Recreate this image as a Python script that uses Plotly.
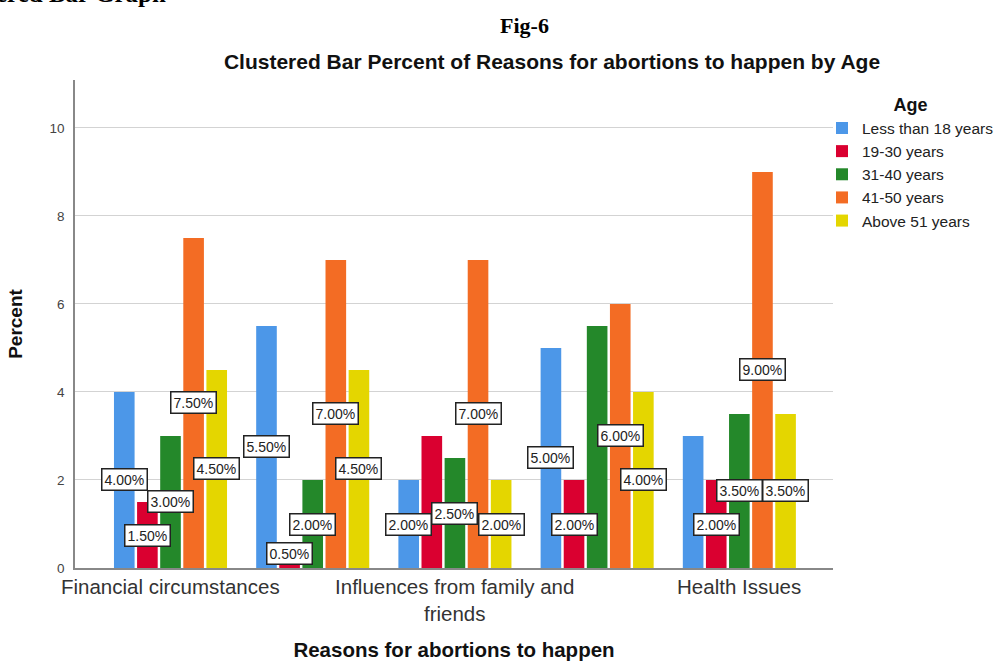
import plotly.graph_objects as go

# ---- data ----
categories = ["Financial circumstances", "Category 2", "Influences from family and friends", "Category 4", "Health Issues"]
tick_positions = [0, 2, 4]
tick_labels = ["Financial circumstances", "Influences from family and<br>friends", "Health Issues"]
age_groups = ["Less than 18 years", "19-30 years", "31-40 years", "41-50 years", "Above 51 years"]
less_than_18 = [4.0, 5.5, 2.0, 5.0, 3.0]
age_19_30 = [1.5, 0.5, 3.0, 2.0, 2.0]
age_31_40 = [3.0, 2.0, 2.5, 5.5, 3.5]
age_41_50 = [7.5, 7.0, 7.0, 6.0, 9.0]
above_51 = [4.5, 4.5, 2.0, 4.0, 3.5]
series = [less_than_18, age_19_30, age_31_40, age_41_50, above_51]
# value labels hidden in the reference (series index, category index)
hidden_labels = [(1, 2), (2, 3), (0, 4)]
colors = ["#4C97E8", "#DA0030", "#24882A", "#F36C24", "#E4D600"]

FONT = "Liberation Sans, Arial, sans-serif"
SERIF = "Liberation Serif, Times New Roman, serif"

W, H = 1003, 661
L, R, T, B = 75, 170, 80, 93
PW, PH = W - L - R, H - T - B


def px(xp):
    return (xp - L) / PW


def py(yp):
    return (H - B - yp) / PH


bar_w = 0.145
pitch = 0.1625
start = -0.396

fig = go.Figure()
annotations = []
xs = list(range(len(categories)))
for k, (name, vals, col) in enumerate(zip(age_groups, series, colors)):
    off = start + k * pitch
    fig.add_trace(go.Bar(
        name=name, x=xs, y=vals, width=bar_w, offset=off,
        marker=dict(color=col, line=dict(width=0)),
        hovertext=categories,
    ))
    for i, v in zip(xs, vals):
        if (k, i) in hidden_labels:
            continue
        annotations.append(dict(
            x=i + off + bar_w / 2, y=max(v / 2, 0.33), xref="x", yref="y",
            text=f"{v:.2f}%", showarrow=False,
            font=dict(family=FONT, size=14, color="#222"),
            bgcolor="white", bordercolor="#222", borderwidth=1.5, borderpad=2,
        ))

annotations.append(dict(x=px(524), y=py(25), xref="paper", yref="paper", text="<b>Fig-6</b>",
                        showarrow=False, yanchor="middle",
                        font=dict(family=SERIF, size=22, color="black")))
annotations.append(dict(x=px(168), y=py(9), xref="paper", yref="paper",
                        xanchor="right", yanchor="bottom", text="<b>Clustered Bar Graph</b>",
                        showarrow=False, font=dict(family=SERIF, size=25, color="black")))

fig.update_layout(
    barmode="overlay",
    width=W, height=H,
    margin=dict(l=L, r=R, t=T, b=B, autoexpand=False),
    paper_bgcolor="white", plot_bgcolor="white",
    font=dict(family=FONT, color="#333"),
    title=dict(text="<b>Clustered Bar Percent of Reasons for abortions to happen by Age</b>",
               x=552 / W, xanchor="center", y=1 - 62 / H, yanchor="middle",
               font=dict(family=FONT, size=21, color="#111")),
    xaxis=dict(range=[-0.67, 4.66], tickmode="array", tickvals=tick_positions, ticktext=tick_labels,
               showline=True, linecolor="#888", linewidth=1.5, showgrid=False, zeroline=False,
               ticks="", tickfont=dict(size=20.5, color="#333"), automargin=False,
               title=dict(text="<b>Reasons for abortions to happen</b>", standoff=40,
                          font=dict(size=20.5, color="#111"))),
    yaxis=dict(range=[0, 11.09], tickvals=[0, 2, 4, 6, 8, 10], showline=True, linecolor="#888",
               linewidth=1.5, showgrid=True, gridcolor="#D3D3D3", gridwidth=1.2, zeroline=False,
               ticks="", tickfont=dict(size=13.5, color="#444"), ticklabelstandoff=6, automargin=False,
               title=dict(text="<b>Percent</b>", standoff=22, font=dict(size=19, color="#111"))),
    legend=dict(x=px(822), xanchor="left", y=py(88), yanchor="top",
                title=dict(text="<b>Age</b>", side="top center", font=dict(size=18, color="#111")),
                font=dict(size=15.5, color="#222"), itemwidth=30, tracegroupgap=0,
                bgcolor="rgba(0,0,0,0)"),
    annotations=annotations,
)
fig.write_html("out.html", config={"displayModeBar": False},
               post_script="document.body.style.margin='0';document.body.style.padding='0';")
